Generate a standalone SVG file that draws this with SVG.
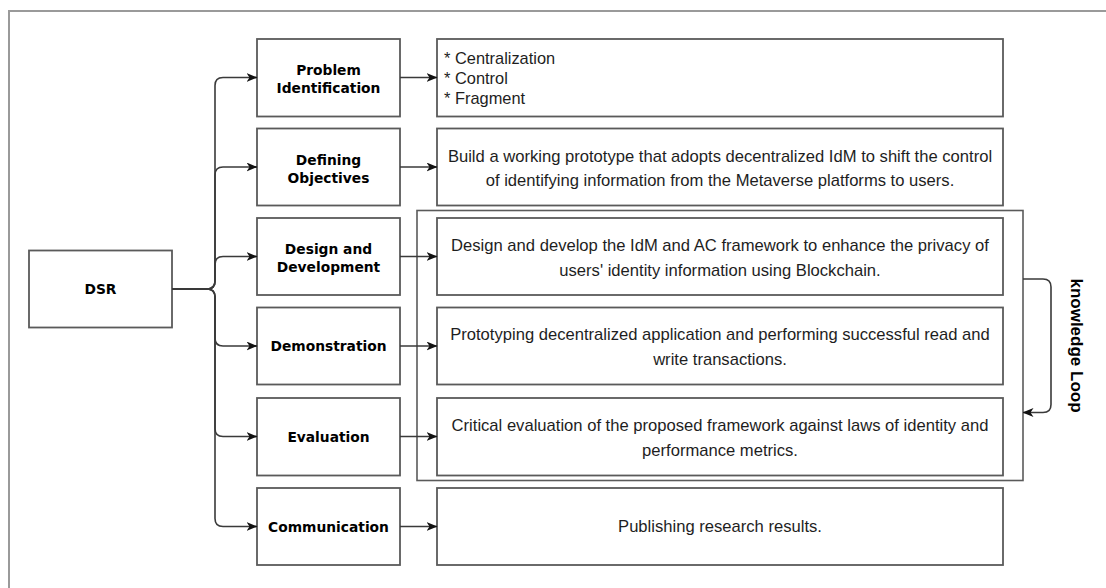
<svg xmlns="http://www.w3.org/2000/svg" width="1106" height="588" viewBox="0 0 1106 588">
  <defs>
    <marker id="arrow" viewBox="0 0 11 9" markerWidth="11" markerHeight="9" refX="10.5" refY="4.5" orient="auto" markerUnits="userSpaceOnUse">
      <path d="M0,0 L11,4.5 L0,9 L3,4.5 Z" fill="#111"/>
    </marker>
    <style>
      .frame { fill: none; stroke: #9a9a9a; stroke-width: 2; }
      .box { fill: #ffffff; stroke: #5a5a5a; stroke-width: 1.8; }
      .group { fill: none; stroke: #5a5a5a; stroke-width: 1.6; }
      .step { font-family: "DejaVu Sans", Verdana, sans-serif; font-weight: bold; font-size: 13.8px; fill: #000; text-anchor: middle; }
      .desc { font-family: "Liberation Sans", Arial, sans-serif; font-size: 16.6px; fill: #1e1e1e; text-anchor: middle; }
      .list { font-family: "Liberation Sans", Arial, sans-serif; font-size: 16.4px; fill: #1e1e1e; }
      .loop { font-family: "Liberation Sans", Arial, sans-serif; font-weight: bold; font-size: 17px; fill: #000; text-anchor: middle; }
      .edge { fill: none; stroke: #3a3a3a; stroke-width: 1.6; marker-end: url(#arrow); }
    </style>
  </defs>

  <rect width="1106" height="588" fill="#ffffff"/>
  <!-- outer frame -->
  <rect class="frame" x="9" y="11" width="1110" height="590"/>

  <!-- group around design, demonstration and evaluation -->
  <g id="knowledge-group">
    <rect class="group" x="417" y="210.5" width="606" height="270"/>
  </g>

  <g id="dsr">
    <rect class="box" x="29" y="250.5" width="143" height="77"/>
    <text class="step" x="100.5" y="294">DSR</text>
  </g>

  <g id="problem-identification">
    <rect class="box" x="257" y="39" width="143" height="77.5"/>
    <text class="step" x="328.5" y="75">Problem</text>
    <text class="step" x="328.5" y="93">Identification</text>
  </g>
  <g id="problem-details">
    <rect class="box" x="437" y="39" width="566" height="77.5"/>
    <text class="list" x="444" y="64">* Centralization</text>
    <text class="list" x="444" y="84">* Control</text>
    <text class="list" x="444" y="104">* Fragment</text>
  </g>

  <g id="defining-objectives">
    <rect class="box" x="257" y="128.5" width="143" height="77"/>
    <text class="step" x="328.5" y="164.5">Defining</text>
    <text class="step" x="328.5" y="182.5">Objectives</text>
  </g>
  <g id="objectives-details">
    <rect class="box" x="437" y="128.5" width="566" height="77"/>
    <text class="desc" x="720" y="162">Build a working prototype that adopts decentralized IdM to shift the control</text>
    <text class="desc" x="720" y="186">of identifying information from the Metaverse platforms to users.</text>
  </g>

  <g id="design-development">
    <rect class="box" x="257" y="218" width="143" height="77"/>
    <text class="step" x="328.5" y="254">Design and</text>
    <text class="step" x="328.5" y="272">Development</text>
  </g>
  <g id="design-details">
    <rect class="box" x="437" y="218" width="566" height="77"/>
    <text class="desc" x="720" y="250.5">Design and develop the IdM and AC framework to enhance the privacy of</text>
    <text class="desc" x="720" y="276">users' identity information using Blockchain.</text>
  </g>

  <g id="demonstration">
    <rect class="box" x="257" y="307.5" width="143" height="77"/>
    <text class="step" x="328.5" y="351">Demonstration</text>
  </g>
  <g id="demonstration-details">
    <rect class="box" x="437" y="307.5" width="566" height="77"/>
    <text class="desc" x="720" y="339.5">Prototyping decentralized application and performing successful read and</text>
    <text class="desc" x="720" y="365">write transactions.</text>
  </g>

  <g id="evaluation">
    <rect class="box" x="257" y="398" width="143" height="77.5"/>
    <text class="step" x="328.5" y="441.5">Evaluation</text>
  </g>
  <g id="evaluation-details">
    <rect class="box" x="437" y="398" width="566" height="77.5"/>
    <text class="desc" x="720" y="430.5">Critical evaluation of the proposed framework against laws of identity and</text>
    <text class="desc" x="720" y="456">performance metrics.</text>
  </g>

  <g id="communication">
    <rect class="box" x="257" y="488" width="143" height="77"/>
    <text class="step" x="328.5" y="531.5">Communication</text>
  </g>
  <g id="communication-details">
    <rect class="box" x="437" y="488" width="566" height="77"/>
    <text class="desc" x="720" y="532">Publishing research results.</text>
  </g>

  <g id="loop-label">
    <text class="loop" transform="translate(1077 345.5) rotate(90)" y="6">knowledge Loop</text>
  </g>

  <g id="connectors">
    <!-- DSR fan-out -->
    <path class="edge" d="M172,289 L207,289 Q215,289 215,281 L215,85.5 Q215,77.5 223,77.5 L257,77.5"/>
    <path class="edge" d="M172,289 L207,289 Q215,289 215,281 L215,175 Q215,167 223,167 L257,167"/>
    <path class="edge" d="M172,289 L207,289 Q215,289 215,281 L215,264.5 Q215,256.5 223,256.5 L257,256.5"/>
    <path class="edge" d="M172,289 L207,289 Q215,289 215,297 L215,338 Q215,346 223,346 L257,346"/>
    <path class="edge" d="M172,289 L207,289 Q215,289 215,297 L215,428.5 Q215,436.5 223,436.5 L257,436.5"/>
    <path class="edge" d="M172,289 L207,289 Q215,289 215,297 L215,518.5 Q215,526.5 223,526.5 L257,526.5"/>
    <!-- step to detail -->
    <path class="edge" d="M400,77.5 L437,77.5"/>
    <path class="edge" d="M400,167 L437,167"/>
    <path class="edge" d="M400,256.5 L437,256.5"/>
    <path class="edge" d="M400,346 L437,346"/>
    <path class="edge" d="M400,436.5 L437,436.5"/>
    <path class="edge" d="M400,526.5 L437,526.5"/>
    <!-- knowledge loop -->
    <path class="edge" d="M1023,279 L1043,279 Q1051,279 1051,287 L1051,404.5 Q1051,412.5 1043,412.5 L1023,412.5"/>
  </g>
</svg>
